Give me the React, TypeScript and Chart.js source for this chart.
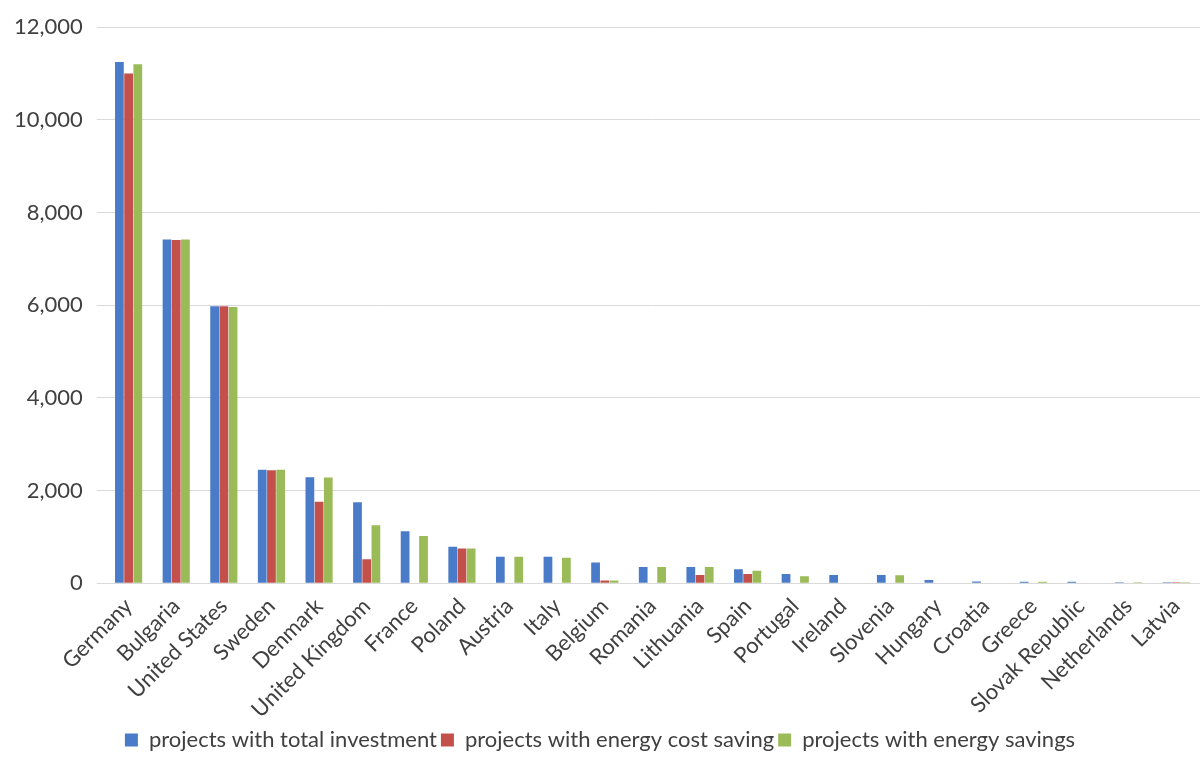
import React, { useEffect, useRef } from "react";
import { Chart, registerables } from "chart.js";
Chart.register(...registerables);

const categories = ["Germany","Bulgaria","United States","Sweden","Denmark","United Kingdom","France","Poland","Austria","Italy","Belgium","Romania","Lithuania","Spain","Portugal","Ireland","Slovenia","Hungary","Croatia","Greece","Slovak Republic","Netherlands","Latvia"];
const totalInvestment = [11250,7420,5980,2450,2290,1750,1120,790,570,570,450,350,350,300,200,180,180,70,40,30,30,20,20];
const energyCostSaving = [11000,7410,5980,2440,1760,520,0,750,0,0,60,0,180,200,0,0,0,0,0,0,0,10,20];
const energySavings = [11200,7420,5960,2450,2280,1250,1020,750,570,550,60,350,350,270,150,0,170,0,10,30,0,20,20];
const yTicks = [0,2000,4000,6000,8000,10000,12000];

export default function App() {
  const ref = useRef<HTMLCanvasElement>(null);
  useEffect(() => {
    document.body.style.margin = "0";
    const font = { family: "Lato, 'Open Sans', sans-serif", size: 22 };
    const c = new Chart(ref.current!, {
      type: "bar",
      data: {
        labels: categories,
        datasets: [
          { label: "projects with total investment", data: totalInvestment, backgroundColor: "#4a7bc8" },
          { label: "projects with energy cost saving", data: energyCostSaving, backgroundColor: "#c4504c" },
          { label: "projects with energy savings", data: energySavings, backgroundColor: "#9bbb59" },
        ],
      },
      options: {
        animation: false,
        responsive: true,
        maintainAspectRatio: false,
        layout: { padding: { top: -2, right: 0, bottom: 0, left: 0 } },
        datasets: { bar: { categoryPercentage: 0.58, barPercentage: 0.95 } },
        plugins: {
          legend: {
            position: "bottom",
            labels: { font, color: "#404040", boxWidth: 13, boxHeight: 13, padding: 4 },
          },
          tooltip: { enabled: false },
        },
        scales: {
          x: {
            grid: { display: false },
            border: { color: "#d9d9d9" },
            ticks: { font, color: "#404040", maxRotation: 45, minRotation: 45, autoSkip: false, padding: 2 },
          },
          y: {
            min: 0, max: 12000,
            afterBuildTicks: (a: any) => { a.ticks = yTicks.map(v => ({ value: v })); },
            grid: { color: "#d9d9d9" },
            border: { display: false },
            ticks: { font, color: "#404040", padding: 14, callback: (v: any) => Number(v).toLocaleString("en-US") },
          },
        },
      },
    });
    return () => c.destroy();
  }, []);
  return (
    <div style={{ position: "fixed", left: 0, top: 0, width: 1200, height: 761 }}>
      <canvas ref={ref} />
    </div>
  );
}
